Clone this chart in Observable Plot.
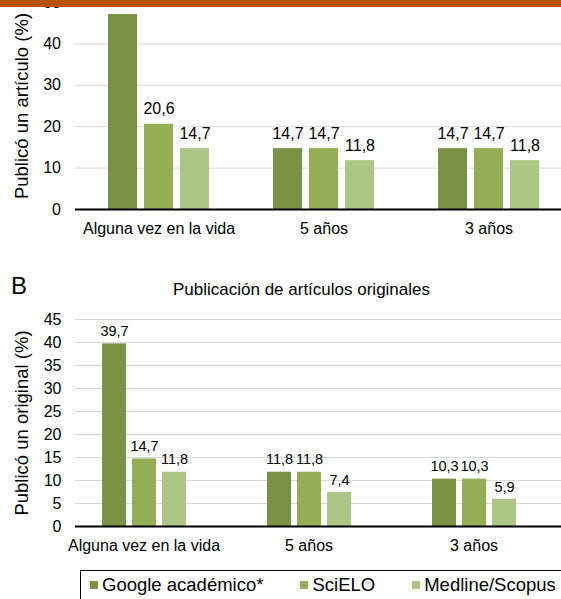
<!DOCTYPE html>
<html>
<head>
<meta charset="utf-8">
<script src="https://cdn.jsdelivr.net/npm/d3@7"></script>
<script src="https://cdn.jsdelivr.net/npm/@observablehq/plot@0.6"></script>
<style>
  html, body { margin: 0; padding: 0; background: #fff; }
  body { width: 561px; height: 599px; overflow: hidden; position: relative; font-family: "Liberation Sans", Arial, Helvetica, sans-serif; color: #000; }
  #band { position: absolute; left: 0; top: 0; width: 561px; height: 7px; background: #B85400; z-index: 5; }
  .layer { position: absolute; left: 0; }
  #letterB { position: absolute; left: 11px; top: 274px; font-size: 24px; line-height: 24px; }
  #titleB { position: absolute; left: 42px; width: 519px; top: 281px; font-size: 17px; line-height: 17px; text-align: center; }
  #legend { position: absolute; left: 80px; top: 570px; width: 600px; height: 60px; border: 1px solid #000; box-sizing: border-box; padding: 5px 0 0 9px; display: flex; gap: 37px; font-size: 18.5px; line-height: 18.5px; white-space: nowrap; }
  #legend .sw { display: inline-block; width: 8px; height: 8px; margin-right: 4px; margin-bottom: 2px; vertical-align: baseline; }
  svg { overflow: visible; }
</style>
</head>
<body>
<div id="band"></div>
<div id="letterB">B</div>
<div id="titleB"></div>
<div id="legend"></div>
<script>
// ---- Data ----
const categories = ["Alguna vez en la vida", "5 años", "3 años"];
const series = ["Google académico*", "SciELO", "Medline/Scopus"];
const seriesColors = ["#7a9244", "#93ae55", "#adc686"];

// Panel A: Publicó un artículo (%)
const articuloGoogle = [47.1, 14.7, 14.7];
const articuloScielo = [20.6, 14.7, 14.7];
const articuloMedline = [14.7, 11.8, 11.8];

// Panel B: Publicó un original (%)
const originalGoogle = [39.7, 11.8, 10.3];
const originalScielo = [14.7, 11.8, 10.3];
const originalMedline = [11.8, 7.4, 5.9];

const ticksA = [0, 10, 20, 30, 40, 50];
const ticksB = [0, 5, 10, 15, 20, 25, 30, 35, 40, 45];

const titleB = "Publicación de artículos originales";
const yLabelA = "Publicó un artículo (%)";
const yLabelB = "Publicó un original (%)";

// ---- Build tables ----
function table(arrs) {
  const rows = [];
  categories.forEach((c, i) => {
    series.forEach((s, j) => rows.push({category: c, series: s, value: arrs[j][i]}));
  });
  return rows;
}
const dataA = table([articuloGoogle, articuloScielo, articuloMedline]);
const dataB = table([originalGoogle, originalScielo, originalMedline]);
const fmt = v => v.toFixed(1).replace(".", ",");
const FONT = "Liberation Sans, Arial, Helvetica, sans-serif";

const common = {
  width: 561, height: 247, marginLeft: 75, marginRight: 0, marginTop: 10, marginBottom: 30,
  style: {fontFamily: FONT, fontSize: "16px", color: "#000", background: "transparent", overflow: "visible"}
};

function addLayer(svg, top) {
  const div = document.createElement("div");
  div.className = "layer";
  div.style.top = top + "px";
  div.appendChild(svg);
  document.body.appendChild(div);
}

function panel({top, data, ticks, label, fxRange, paddingOuter, valueSize, valueDy, tickPadding, labelOffset}) {
  const y = {domain: [ticks[0], ticks[ticks.length - 1]], axis: null};
  // background: grid + y axis
  addLayer(Plot.plot({
    ...common,
    y,
    marks: [
      Plot.gridY(ticks, {stroke: "#d9d9d9", strokeOpacity: 1, strokeWidth: 1}),
      Plot.axisY(ticks, {anchor: "left", tickSize: 0, tickPadding, fontSize: 16, label: null, tickFormat: d => String(d)}),
      Plot.axisY([], {anchor: "left", tickSize: 0, fontSize: 18.5, label, labelAnchor: "center", labelOffset, labelArrow: "none"})
    ]
  }), top);
  // bars + values + category axis
  addLayer(Plot.plot({
    ...common,
    fx: {domain: categories, range: fxRange, padding: 0, label: null, axis: null},
    x: {domain: series, paddingInner: 0.2, paddingOuter, axis: null},
    y,
    color: {domain: series, range: seriesColors},
    marks: [
      Plot.barY(data, {fx: "category", x: "series", y: "value", fill: "series"}),
      Plot.text(data, {fx: "category", x: "series", y: "value", text: d => fmt(d.value), dy: valueDy, fontSize: valueSize, fill: "#000"}),
      Plot.axisFx({anchor: "bottom", tickSize: 0, tickPadding: 13, fontSize: 16, label: null})
    ]
  }), top);
  // baseline on top
  addLayer(Plot.plot({
    ...common,
    y,
    marks: [Plot.ruleY([0], {stroke: "#000", strokeWidth: 2})]
  }), top);
}

panel({
  top: -8, data: dataA, ticks: ticksA, label: yLabelA, fxRange: [75, 571], paddingOuter: 0.867,
  valueSize: 16, valueDy: -15, tickPadding: 14.5, labelOffset: 61
});
panel({
  top: 309, data: dataB, ticks: ticksB, label: yLabelB, fxRange: [60.5, 555.5], paddingOuter: 1.35,
  valueSize: 14.5, valueDy: -12.5, tickPadding: 14, labelOffset: 61
});

document.getElementById("titleB").textContent = titleB;

// Legend
const legend = document.getElementById("legend");
series.forEach((s, i) => {
  const item = document.createElement("span");
  const sw = document.createElement("span");
  sw.className = "sw";
  sw.style.background = seriesColors[i];
  item.appendChild(sw);
  item.appendChild(document.createTextNode(s));
  legend.appendChild(item);
});
</script>
</body>
</html>
